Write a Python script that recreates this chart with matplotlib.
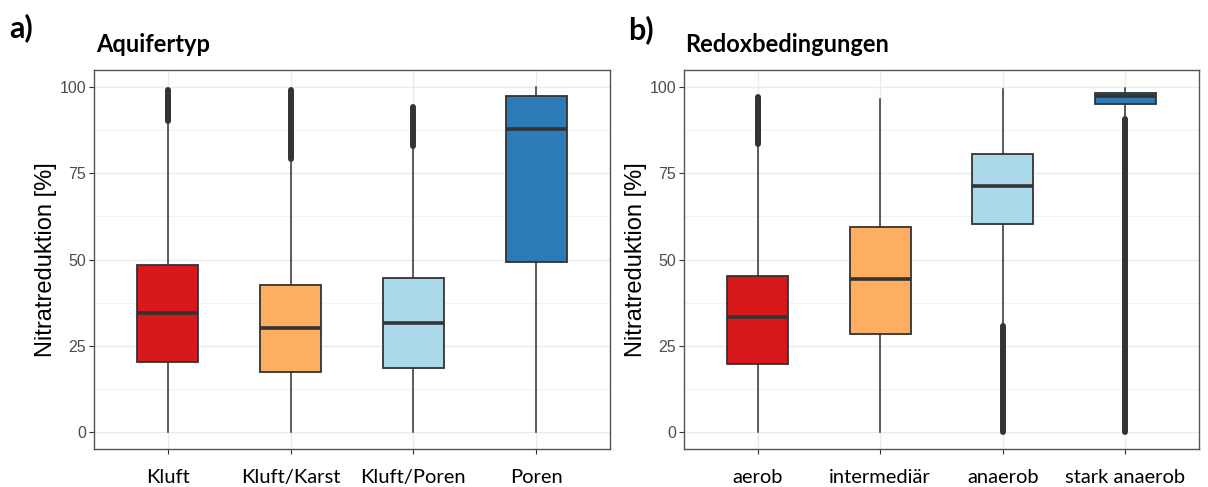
import matplotlib
matplotlib.use("Agg")
import matplotlib.pyplot as plt
from matplotlib.ticker import MultipleLocator

# ---- data ----
cats_a = ["Kluft", "Kluft/Karst", "Kluft/Poren", "Poren"]
q1_a = [20.2, 17.4, 18.6, 49.2]
med_a = [34.4, 30.1, 31.5, 87.8]
q3_a = [48.4, 42.6, 44.5, 97.5]
wlo_a = [0.0, 0.0, 0.0, 0.0]
whi_a = [90.2, 79.1, 83.0, 100.0]
out_lo_a = [90.2, 79.1, 83.0, None]
out_hi_a = [99.2, 99.2, 94.4, None]

cats_b = ["aerob", "intermediär", "anaerob", "stark anaerob"]
q1_b = [19.6, 28.3, 60.3, 95.2]
med_b = [33.2, 44.2, 71.2, 97.5]
q3_b = [45.3, 59.3, 80.5, 98.4]
wlo_b = [0.0, 0.0, 30.6, 90.7]
whi_b = [83.5, 96.6, 99.5, 99.9]
out_lo_b = [83.5, None, 0.0, 0.0]
out_hi_b = [97.2, None, 30.6, 90.7]

yticks = [0, 25, 50, 75, 100]
colors = ["#D7191C", "#FDAE61", "#ABD9E9", "#2C7BB6"]
panel_labels = ["a)", "b)"]
titles = ["Aquifertyp", "Redoxbedingungen"]
ylabel = "Nitratreduktion [%]"

W, H = 1208, 487
fig = plt.figure(figsize=(W / 100, H / 100), dpi=100)

def px_axes(l, t, r, b):
    return fig.add_axes([l / W, 1 - b / H, (r - l) / W, (b - t) / H])

edge = "#333333"

def panel(ax, cats, q1, med, q3, wlo, whi, olo, ohi):
    stats = []
    for i in range(len(cats)):
        stats.append(dict(med=med[i], q1=q1[i], q3=q3[i], whislo=wlo[i],
                          whishi=whi[i], fliers=[], label=cats[i]))
    pos = list(range(1, len(cats) + 1))
    for i, p in enumerate(pos):
        if olo[i] is not None:
            ax.plot([p, p], [olo[i], ohi[i]], color=edge, lw=4.3,
                    solid_capstyle="round", zorder=2)
    bp = ax.bxp(stats, positions=pos, widths=0.5, patch_artist=True,
                showcaps=False, showfliers=False,
                boxprops=dict(edgecolor=edge, linewidth=1.3),
                whiskerprops=dict(color=edge, linewidth=1.1),
                medianprops=dict(color=edge, linewidth=2.6, solid_capstyle="butt"),
                zorder=3)
    for patch, c in zip(bp["boxes"], colors):
        patch.set_facecolor(c)
    ax.set_xlim(0.4, len(cats) + 0.6)
    ax.set_ylim(-5, 105)
    ax.set_yticks(yticks)
    ax.set_yticklabels([str(v) for v in yticks], family="Liberation Sans")
    ax.yaxis.set_minor_locator(MultipleLocator(12.5))
    ax.grid(which="major", color="#EBEBEB", linewidth=1.0, zorder=0)
    ax.grid(which="minor", axis="y", color="#F2F2F2", linewidth=0.8, zorder=0)
    ax.set_axisbelow(True)
    ax.set_xticks(pos)
    ax.set_xticklabels(cats, fontsize=14.5, family="Lato", color="black")
    ax.tick_params(axis="y", which="major", labelsize=11.5, labelcolor="#4D4D4D",
                   color=edge, length=3.5, width=0.8, pad=2)
    ax.tick_params(axis="x", which="major", color=edge, length=3.5, width=0.8, pad=11)
    ax.tick_params(which="minor", length=0)
    for s in ax.spines.values():
        s.set_color("#555555")
        s.set_linewidth(1.0)
    ax.set_ylabel(ylabel, fontsize=17, family="Liberation Sans", labelpad=2)

axA = px_axes(94, 70, 610, 449)
panel(axA, cats_a, q1_a, med_a, q3_a, wlo_a, whi_a, out_lo_a, out_hi_a)
axB = px_axes(684, 70, 1199, 449)
panel(axB, cats_b, q1_b, med_b, q3_b, wlo_b, whi_b, out_lo_b, out_hi_b)

fig.text(9 / W, 1 - 28 / H, panel_labels[0], fontsize=22, fontweight="bold",
         family="Lato", va="center", ha="left")
fig.text(628 / W, 1 - 30 / H, panel_labels[1], fontsize=22, fontweight="bold",
         family="Lato", va="center", ha="left")
fig.text(96 / W, 1 - 45 / H, titles[0], fontsize=17, fontweight="bold",
         family="Lato", va="center", ha="left")
fig.text(685 / W, 1 - 45 / H, titles[1], fontsize=17, fontweight="bold",
         family="Lato", va="center", ha="left")

fig.savefig("out.png", dpi=100)
